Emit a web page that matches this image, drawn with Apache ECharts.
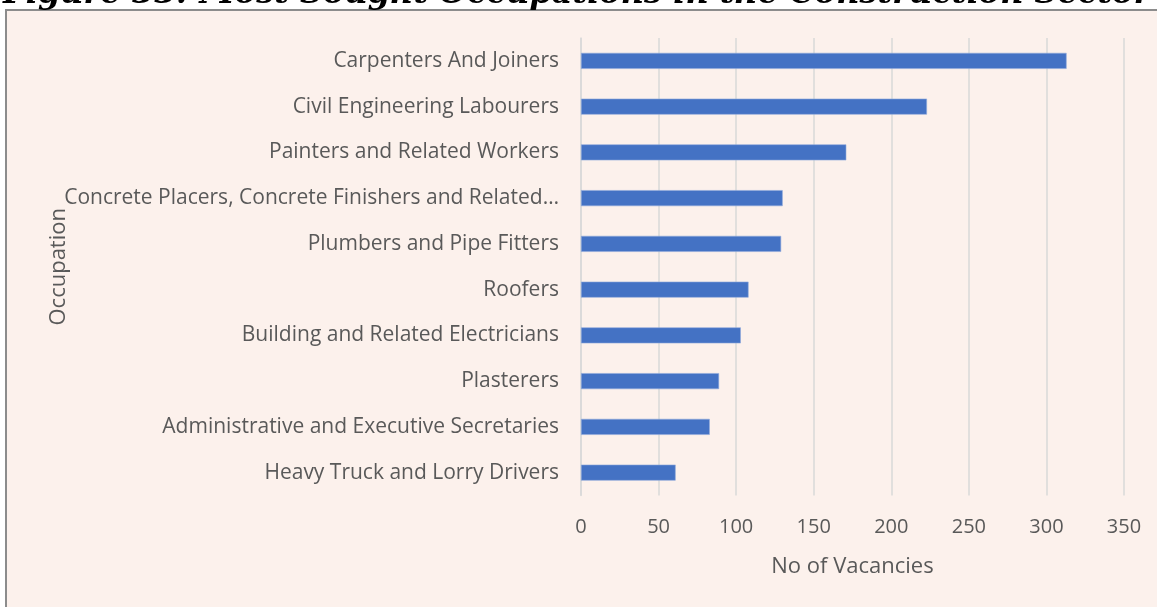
<!DOCTYPE html>
<html>
<head>
<meta charset="utf-8">
<script src="https://cdn.jsdelivr.net/npm/echarts@6/dist/echarts.min.js"></script>
<style>
  html, body { margin: 0; padding: 0; background: #fff; }
  #chart { width: 1157px; height: 607px; }
</style>
</head>
<body>
<div id="chart"></div>
<script>
// occupations, top to bottom as in the figure
const occupations = [
  'Carpenters And Joiners',
  'Civil Engineering Labourers',
  'Painters and Related Workers',
  'Concrete Placers, Concrete Finishers and Related Workers',
  'Plumbers and Pipe Fitters',
  'Roofers',
  'Building and Related Electricians',
  'Plasterers',
  'Administrative and Executive Secretaries',
  'Heavy Truck and Lorry Drivers',
]
const vacancies = [313, 223, 171, 130, 129, 108, 103, 89, 83, 61]
const xTicks = [0, 50, 100, 150, 200, 250, 300, 350]

const TEXT = '#595959'
const FONT = '"Open Sans", "Noto Sans", sans-serif'

const chart = echarts.init(document.getElementById('chart'))
chart.setOption({
  backgroundColor: '#ffffff',
  animation: false,
  title: {
    text: 'Figure 33: Most Sought Occupations in the Construction Sector',
    left: -2,
    top: -26,
    textStyle: {
      fontFamily: '"DejaVu Serif", serif',
      fontStyle: 'italic',
      fontWeight: 'bold',
      fontSize: 32,
      color: '#000',
    },
  },
  graphic: [{
    type: 'rect',
    z: -10,
    silent: true,
    shape: { x: 6, y: 10, width: 1200, height: 640 },
    style: { fill: '#fcf1ec', stroke: '#8c8c8c', lineWidth: 2 },
  }],
  grid: { left: 581, right: 33, top: 38, bottom: 111.5 },
  xAxis: {
    type: 'value',
    min: xTicks[0],
    max: xTicks[xTicks.length - 1],
    interval: 50,
    axisLine: { show: false },
    axisTick: { show: false },
    splitLine: { lineStyle: { color: '#d9d9d9', width: 1.5 } },
    axisLabel: { color: TEXT, fontFamily: FONT, fontSize: 20, margin: 22 },
    name: 'No of Vacancies',
    nameLocation: 'middle',
    nameGap: 60,
    nameTextStyle: { color: TEXT, fontFamily: FONT, fontSize: 22 },
  },
  yAxis: {
    type: 'category',
    inverse: true,
    data: occupations,
    axisLine: { lineStyle: { color: '#d9d9d9', width: 1.5 } },
    axisTick: { show: false },
    axisLabel: {
      color: TEXT, fontFamily: FONT, fontSize: 21, margin: 22,
      width: 507, overflow: 'truncate', ellipsis: '…',
    },
    name: 'Occupation',
    nameLocation: 'middle',
    nameGap: 511,
    nameMoveOverlap: false,
    nameRotate: 90,
    nameTextStyle: { color: TEXT, fontFamily: FONT, fontSize: 22 },
  },
  series: [{
    type: 'bar',
    data: vacancies,
    barWidth: 16,
    itemStyle: { color: '#4472c4', borderColor: '#8faadc', borderWidth: 0.6 },
  }],
})
</script>
</body>
</html>
